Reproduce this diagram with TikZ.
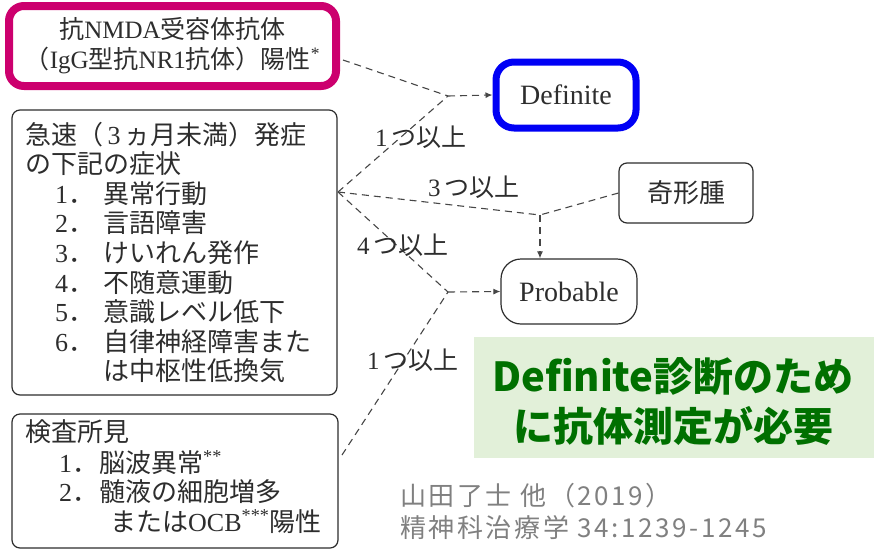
\documentclass[tikz,border=0pt]{standalone}
\usepackage{fontspec}
\setmainfont{Liberation Serif}
\newfontfamily\jp{Noto Sans CJK JP}
\newcommand\jt[1]{{\jp #1}}
\usetikzlibrary{arrows.meta}
\definecolor{inkc}{RGB}{45,45,45}
\definecolor{linec}{RGB}{70,70,70}
\definecolor{magbox}{RGB}{204,0,110}
\definecolor{bluebox}{RGB}{0,0,245}
\definecolor{greenbg}{HTML}{E2F0D9}
\definecolor{greentx}{RGB}{0,112,0}
\definecolor{citec}{RGB}{128,128,128}
\begin{document}
\begin{tikzpicture}[x=1pt,y=-1pt,
  conn/.style={draw=linec, line width=1.1pt, dash pattern=on 7pt off 5pt},
  arr/.style={-{Latex[length=7pt,width=6pt]}},
  rbox/.style={draw=inkc, line width=1.2pt, rounded corners=8pt, inner sep=0pt},
  txt/.style={anchor=base west, inner sep=0pt, text=inkc, font=\fontsize{26}{30}\selectfont},
  lab/.style={inner sep=0pt, text=inkc, font=\fontsize{25}{28}\selectfont}
]
\useasboundingbox (0,0) rectangle (874,555);

% top box (antibody)
\node[draw=magbox, line width=8pt, rounded corners=15pt, minimum width=327pt, minimum height=80pt,
      inner sep=0pt, align=center, text=inkc, font=\fontsize{25}{30}\selectfont] (m1) at (172.5,46)
  {\jt{抗}NMDA\jt{受容体抗体}\\\jt{（}IgG\jt{型抗}NR1\jt{抗体）陽性}\textsuperscript{*}};

% symptom box
\node[rbox, minimum width=325pt, minimum height=285pt] (b2) at (174.5,252.5) {};
\node[txt] (s0) at (25,144) {\jt{急速（}\,3\,\jt{ヵ月未満）発症}};
\node[txt] (s00) at (25,173.6) {\jt{の下記の症状}};
\node[txt] (n1) at (55,203.2) {1\jt{．}};
\node[txt] (i1) at (103,203.2) {\jt{異常行動}};
\node[txt] (n2) at (55,232.8) {2\jt{．}};
\node[txt] (i2) at (103,232.8) {\jt{言語障害}};
\node[txt] (n3) at (55,262.4) {3\jt{．}};
\node[txt] (i3) at (103,262.4) {\jt{けいれん発作}};
\node[txt] (n4) at (55,292) {4\jt{．}};
\node[txt] (i4) at (103,292) {\jt{不随意運動}};
\node[txt] (n5) at (55,321.6) {5\jt{．}};
\node[txt] (i5) at (103,321.6) {\jt{意識レベル低下}};
\node[txt] (n6) at (55,351.2) {6\jt{．}};
\node[txt] (i6) at (103,351.2) {\jt{自律神経障害また}};
\node[txt] (i7) at (103,380.8) {\jt{は中枢性低換気}};

% lab findings box
\node[rbox, minimum width=326pt, minimum height=134pt] (b3) at (175,481) {};
\node[txt] (k0) at (25,441) {\jt{検査所見}};
\node[txt] (kn1) at (59,472) {1\jt{．}};
\node[txt] (ki1) at (99,472) {\jt{脳波異常}\textsuperscript{**}};
\node[txt] (kn2) at (59,501) {2\jt{．}};
\node[txt] (ki2) at (99,501) {\jt{髄液の細胞増多}};
\node[txt] (ki3) at (110,531) {\jt{または}OCB\textsuperscript{***}\jt{陽性}};

% outcome boxes
\node[draw=bluebox, line width=7pt, rounded corners=18pt, minimum width=140pt, minimum height=66pt,
      inner sep=0pt, text=inkc, font=\fontsize{28}{30}\selectfont] (d) at (566,95) {Definite};
\node[rbox, minimum width=134pt, minimum height=60pt, font=\fontsize{26}{30}\selectfont, text=inkc] (t) at (686,193) {\jt{奇形腫}};
\node[rbox, rounded corners=20pt, minimum width=136pt, minimum height=65pt, font=\fontsize{28}{30}\selectfont, text=inkc] (p) at (569,291.5) {Probable};

% junctions
\coordinate (mo) at (343,60);
\coordinate (V) at (338,192);
\coordinate (V3) at (342,455);
\coordinate (J1) at (448,96);
\coordinate (J2) at (540,215);
\coordinate (J3) at (448,292);

\draw[conn] (mo) -- (J1);
\draw[conn] (V) -- (J1);
\draw[conn,arr] (J1) -- (d.west);
\draw[conn] (V) -- (J2);
\draw[conn] (t.west) -- (J2);
\draw[conn,arr] (J2) -- (J2 |- p.north);
\draw[conn] (V) -- (J3);
\draw[conn,arr] (J3) -- (p.west);
\draw[conn] (V3) -- (J3);

% labels
\node[lab] (l1) at (421,137) {1\,\jt{つ以上}};
\node[lab] (l2) at (474,187) {3\,\jt{つ以上}};
\node[lab] (l3) at (403,245) {4\,\jt{つ以上}};
\node[lab] (l4) at (413,360) {1\,\jt{つ以上}};

% green note
\node[fill=greenbg, minimum width=400pt, minimum height=121pt, inner sep=0pt] (g) at (674,397.5) {};
\node[inner sep=0pt, align=center, text=greentx, font=\jp\bfseries\fontsize{40}{50}\selectfont] (gt) at (673,402)
  {Definite診断のため\\に抗体測定が必要};

% citation
\node[anchor=north west, inner sep=0pt, align=left, text=citec,
      font=\jp\addfontfeatures{LetterSpace=10}\fontsize{26}{32}\selectfont] (c) at (400,483)
  {山田了士 他（2019）\\精神科治療学 34:1239-1245};
\end{tikzpicture}
\end{document}
